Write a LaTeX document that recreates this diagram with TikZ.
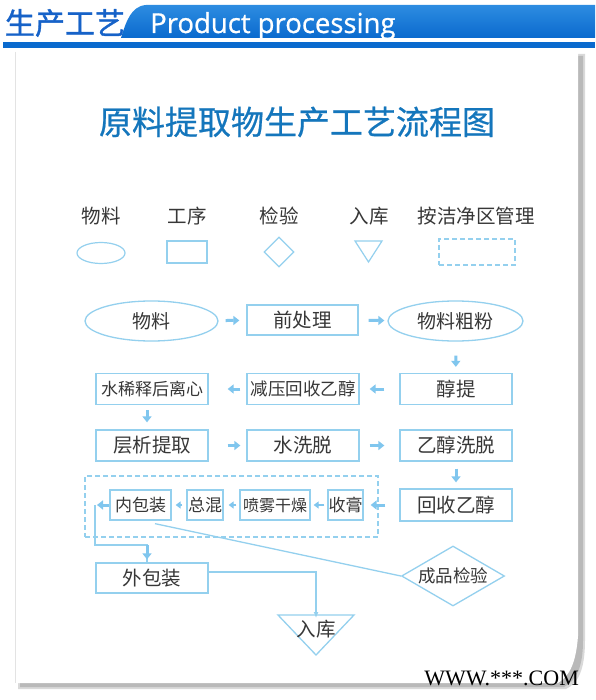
\documentclass[tikz,border=0pt]{standalone}
\usepackage{fontspec}
\setmainfont{Noto Sans CJK SC}
\newfontfamily\cjkb[FakeBold=1.2]{Noto Sans CJK SC}
\newfontfamily\cjkt[FakeBold=0.6]{Noto Sans CJK SC}
\newfontfamily\latinfont[FakeBold=0.8]{Open Sans}
\newfontfamily\timesfont{Liberation Serif}
\usetikzlibrary{shapes.geometric,arrows.meta}
\definecolor{sb}{RGB}{148,208,238}
\definecolor{ab}{RGB}{128,198,238}
\definecolor{tx}{RGB}{55,55,55}
\definecolor{hb}{RGB}{10,106,206}
\definecolor{hbl}{RGB}{45,140,225}
\definecolor{hdr}{RGB}{22,98,200}
\definecolor{tb}{RGB}{20,118,188}
\begin{document}
\begin{tikzpicture}[x=1pt,y=-1pt,
  fnt/.style={font=\fontsize{#1}{#1}\selectfont},
  box/.style={draw=sb,line width=1.3pt,minimum width=112pt,minimum height=31pt,inner sep=0pt,text=tx},
  sbox/.style={draw=sb,line width=1.3pt,minimum height=30pt,inner sep=0pt,text=tx,fnt=17},
  oval/.style={ellipse,draw=sb,line width=1.3pt,minimum width=133pt,minimum height=40pt,inner sep=0pt,text=tx,fnt=19},
  lab/.style={text=tx,fnt=19.5},
  sarrow/.style={draw=ab,line width=3pt,-{Triangle[length=6pt,width=9pt]}},
  tarrow/.style={draw=ab,line width=2pt,-{Triangle[length=5pt,width=7pt]}},
  conn/.style={draw=sb,line width=1.3pt},
  dbox/.style={draw=sb,line width=1.3pt,dash pattern=on 5pt off 3pt}]
\useasboundingbox (0,0) rectangle (595,700);
% card shadow and card
\fill[gray!30] (18,54) -- (585,54) -- (585,640) .. controls (585,668) and (579,683) .. (566,689) -- (18,689) -- cycle;
\fill[gray!55] (20,56) -- (583,56) -- (583,640) .. controls (583,666) and (577,680) .. (564,687) -- (20,687) -- cycle;
\fill[white] (15,50) -- (578,50) -- (578,636) .. controls (576,662) and (570,676) .. (558,683) -- (15,683) -- cycle;
\draw[gray!22,line width=1pt] (15.5,52) -- (15.5,683);
% header
\shade[top color=hbl,bottom color=hb] (121,38) .. controls (126,22) and (131,6) .. (146,5) -- (595,5) -- (595,38) -- cycle;
\fill[hb] (3,42.5) rectangle (595,48);
\node[font=\cjkb\fontsize{30}{30}\selectfont,text=hdr] (hd) at (65,23) {生产工艺};
\node[font=\latinfont\fontsize{27.5}{27.5}\selectfont,text=white,anchor=base west,inner sep=0pt] (hp) at (150,33) {Product processing};
% title
\node[font=\cjkt\fontsize{33}{33}\selectfont,text=tb] (title) at (297,122) {原料提取物生产工艺流程图};
% legend
\node[lab] (l1) at (101,216) {物料};
\node[lab] (l2) at (187,216) {工序};
\node[lab] (l3) at (279,216) {检验};
\node[lab] (l4) at (369,216) {入库};
\node[lab] (l5) at (476,216) {按洁净区管理};
\node[ellipse,draw=sb,line width=1.2pt,minimum width=48pt,minimum height=21pt,inner sep=0pt] (s1) at (101,253) {};
\node[draw=sb,line width=1.2pt,minimum width=40pt,minimum height=22pt,inner sep=0pt] (s2) at (187,252) {};
\node[diamond,draw=sb,line width=1.2pt,minimum width=30pt,minimum height=30pt,inner sep=0pt] (s3) at (279,252) {};
\draw[conn,line width=1.2pt] (355,241) -- (382,241) -- (368.5,262) -- cycle;
\node[dbox,line width=1.2pt,minimum width=76pt,minimum height=26pt,inner sep=0pt] (s5) at (477,252) {};
% row 1
\node[oval] (m1) at (151.5,321) {物料};
\node[box,minimum width=111pt,minimum height=30pt,fnt=19.5] (m2) at (302.5,320) {前处理};
\node[oval,minimum width=135pt] (m3) at (455.5,321) {物料粗粉};
% row 2
\node[box,fnt=17] (r21) at (152,389) {水稀释后离心};
\node[box,fnt=17.5] (r22) at (303,389) {减压回收乙醇};
\node[box,fnt=19.5] (r23) at (456,389) {醇提};
% row 3
\node[box,fnt=19.5] (r31) at (152,445.5) {层析提取};
\node[box,fnt=19.5] (r32) at (303,445.5) {水洗脱};
\node[box,fnt=19.5] (r33) at (456,445.5) {乙醇洗脱};
% row 4
\node[dbox,minimum width=293pt,minimum height=61pt,inner sep=0pt] (clean) at (231.5,506.5) {};
\node[box,minimum height=32pt,fnt=19.5] (r44) at (456,505) {回收乙醇};
\node[sbox,minimum width=35pt] (shg) at (345.5,505) {收膏};
\node[sbox,minimum width=70pt,fnt=16] (pw) at (275,505) {喷雾干燥};
\node[sbox,minimum width=36pt] (zh) at (205,505) {总混};
\node[sbox,minimum width=61pt] (nb) at (140.5,505) {内包装};
\coordinate (j1) at (95,505);
\coordinate (j2) at (95,545);
% bottom
\node[box,minimum height=30pt,fnt=19.5] (wb) at (152,578) {外包装};
\node[diamond,draw=sb,line width=1.3pt,aspect=1.7,minimum width=103pt,minimum height=60pt,inner sep=0pt,text=tx,fnt=17.5] (jy) at (453,576) {成品检验};
\draw[conn] (278,615) -- (354,615) -- (316,655) -- cycle;
\coordinate (rkt) at (316,615);
\node[text=tx,fnt=19.5,inner sep=0pt] (rk) at (316,629) {入库};
% arrows
\draw[sarrow,shorten <=7pt,shorten >=7pt] (m1) -- (m2);
\draw[sarrow,shorten <=10pt,shorten >=3pt] (m2) -- (m3);
\draw[sarrow,shorten <=14pt,shorten >=6pt] (m3) -- (r23);
\draw[sarrow,shorten <=15pt,shorten >=10pt] (r23) -- (r22);
\draw[sarrow,shorten <=6pt,shorten >=19pt] (r22) -- (r21);
\draw[sarrow,shorten <=5pt,shorten >=7pt] ([xshift=-5pt]r21.south) -- ([xshift=-5pt]r31.north);
\draw[sarrow,shorten <=19pt,shorten >=6pt] (r31) -- (r32);
\draw[sarrow,shorten <=10pt,shorten >=15pt] (r32) -- (r33);
\draw[sarrow,shorten <=7pt,shorten >=6pt] (r33) -- (r44);
\draw[sarrow,shorten <=14pt,shorten >=7pt] (r44) -- (shg);
\draw[tarrow,shorten <=3pt,shorten >=3pt] (shg) -- (pw);
\draw[tarrow,shorten <=3pt,shorten >=5pt] (pw) -- (zh);
\draw[tarrow,shorten <=4pt,shorten >=4pt] (zh) -- (nb);
\draw[sarrow,shorten >=2pt] (nb) -- (j1);
\draw[conn] (j1) -- (j2) -| ([xshift=-5pt]wb.north);
\draw[sarrow,shorten <=1pt,shorten >=3pt] ([xshift=-5pt,yshift=18pt]wb.north) -- ([xshift=-5pt]wb.north);
\draw[conn,-{Latex[length=6pt,width=5pt]}] ([yshift=6pt]wb.east) -| ([yshift=-3pt]rkt);
\draw[conn] (jy.west) -- ([xshift=14.5pt,yshift=-3pt]nb.south);
% watermark
\node[font=\timesfont\fontsize{22}{22}\selectfont,text=black,anchor=base east,inner sep=0pt] (wm) at (579,685) {WWW.***.COM};
\end{tikzpicture}
\end{document}
